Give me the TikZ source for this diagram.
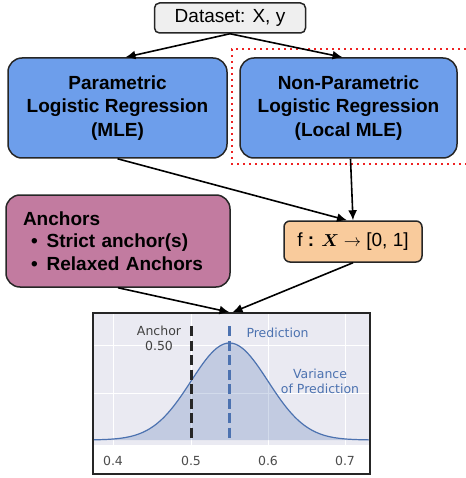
\documentclass[tikz,border=0pt]{standalone}
\usepackage{fontspec}
\setmainfont{Liberation Sans}
\newfontfamily\plotfont{DejaVu Sans}
\usepackage{bm}
\usetikzlibrary{arrows.meta}
\tikzset{>={Latex[length=10pt,width=9pt]}}

\definecolor{boxblue}{HTML}{6D9EEB}
\definecolor{anchorpink}{HTML}{C27BA0}
\definecolor{fpeach}{HTML}{F9CB9C}
\definecolor{databox}{HTML}{EFEFEF}
\definecolor{plotbg}{HTML}{EAEAF2}
\definecolor{predblue}{HTML}{4C72B0}
\definecolor{dotred}{HTML}{EE2222}

\begin{document}
\begin{tikzpicture}[x=1pt, y=-1pt,
    box/.style={draw=black!85, line width=1.5pt, rounded corners=14pt, align=center,
        font=\fontsize{19}{23.5}\selectfont\bfseries},
    link/.style={->, line width=1.6pt},
    ticklab/.style={text=black!70, font=\plotfont\fontsize{12.5}{14}\selectfont},
    plotlab/.style={text=predblue, align=center, font=\plotfont\fontsize{12.5}{15}\selectfont}]
\useasboundingbox (0,0) rectangle (465,478);

% local part
\draw[dotred, line width=2pt, dash pattern=on 2pt off 4pt] (466,49) -- (232,49) -- (232,164) -- (466,164);

\node[box, fill=databox, rounded corners=5pt, minimum width=151pt, minimum height=30pt,
    font=\fontsize{19}{22}\selectfont] (data) at (230,18) {Dataset: X, y};
\node[box, fill=boxblue, minimum width=219pt, minimum height=100pt] (param) at (117.5,108)
    {Parametric\\Logistic Regression\\(MLE)};
\node[box, fill=boxblue, minimum width=217pt, minimum height=100pt] (nonparam) at (348.5,108)
    {Non-Parametric\\Logistic Regression\\(Local MLE)};
\draw[link] (data.south) -- ([xshift=8pt]param.north);
\draw[link] (data.south) -- ([xshift=-6pt]nonparam.north);

\node[box, fill=anchorpink, align=left, minimum width=224pt, minimum height=92pt,
    text width=190pt, font=\fontsize{19}{22.5}\selectfont\bfseries] (anchors) at (118,241)
    {Anchors\\\hspace*{8pt}\textbullet\hspace{9pt}Strict anchor(s)\\\hspace*{8pt}\textbullet\hspace{9pt}Relaxed Anchors};
\node[box, fill=fpeach, rounded corners=6pt, minimum width=138pt, minimum height=41pt,
    font=\fontsize{19}{22}\selectfont] (f) at (353,241.5)
    {f \textbf{:} $\bm{X}\rightarrow$ [0, 1]};
\draw[link] (param.south) -- ([xshift=-6pt]f.north);
\draw[link] ([xshift=2pt]nonparam.south) -- (f.north);

% plot
\fill[plotbg] (94,314) rectangle (369,445);
\foreach \gx in {113,191,268,345}
    \draw[white, line width=1pt] (\gx,314) -- (\gx,445);
\foreach \gy in {345,393}
    \draw[white, line width=1pt] (94,\gy) -- (369,\gy);
\fill[predblue, opacity=0.25] (94,440) -- plot[domain=94:369, samples=120]
    (\x, {440-97*exp(-0.5*((\x-229.5)/38.5)^2)}) -- (369,440) -- cycle;
\draw[predblue, line width=1.2pt] plot[domain=94:369, samples=120]
    (\x, {440-97*exp(-0.5*((\x-229.5)/38.5)^2)});
\draw[black!85, line width=3pt, dash pattern=on 10pt off 4.5pt] (191,326) -- (191,440);
\draw[predblue, line width=3pt, dash pattern=on 10pt off 4.5pt] (229.5,326) -- (229.5,440);
\node[plotlab, text=black!75] (anchorlab) at (159,338.5) {Anchor\\0.50};
\node[plotlab, anchor=west] (predlab) at (243,333) {Prediction};
\node[plotlab] (varlab) at (320,381.5) {Variance\\of Prediction};
\foreach \v/\gx in {0.4/113, 0.5/191, 0.6/268, 0.7/345}
    \node[ticklab] (tick\gx) at (\gx,461) {\v};
\node[draw=black!85, line width=1.5pt, minimum width=277pt, minimum height=161pt] (plot) at (231.5,393.5) {};
\draw[link] (anchors.south) -- ([xshift=-2pt]plot.north);
\draw[link] (f.south) -- ([xshift=1pt]plot.north);

\end{tikzpicture}
\end{document}
